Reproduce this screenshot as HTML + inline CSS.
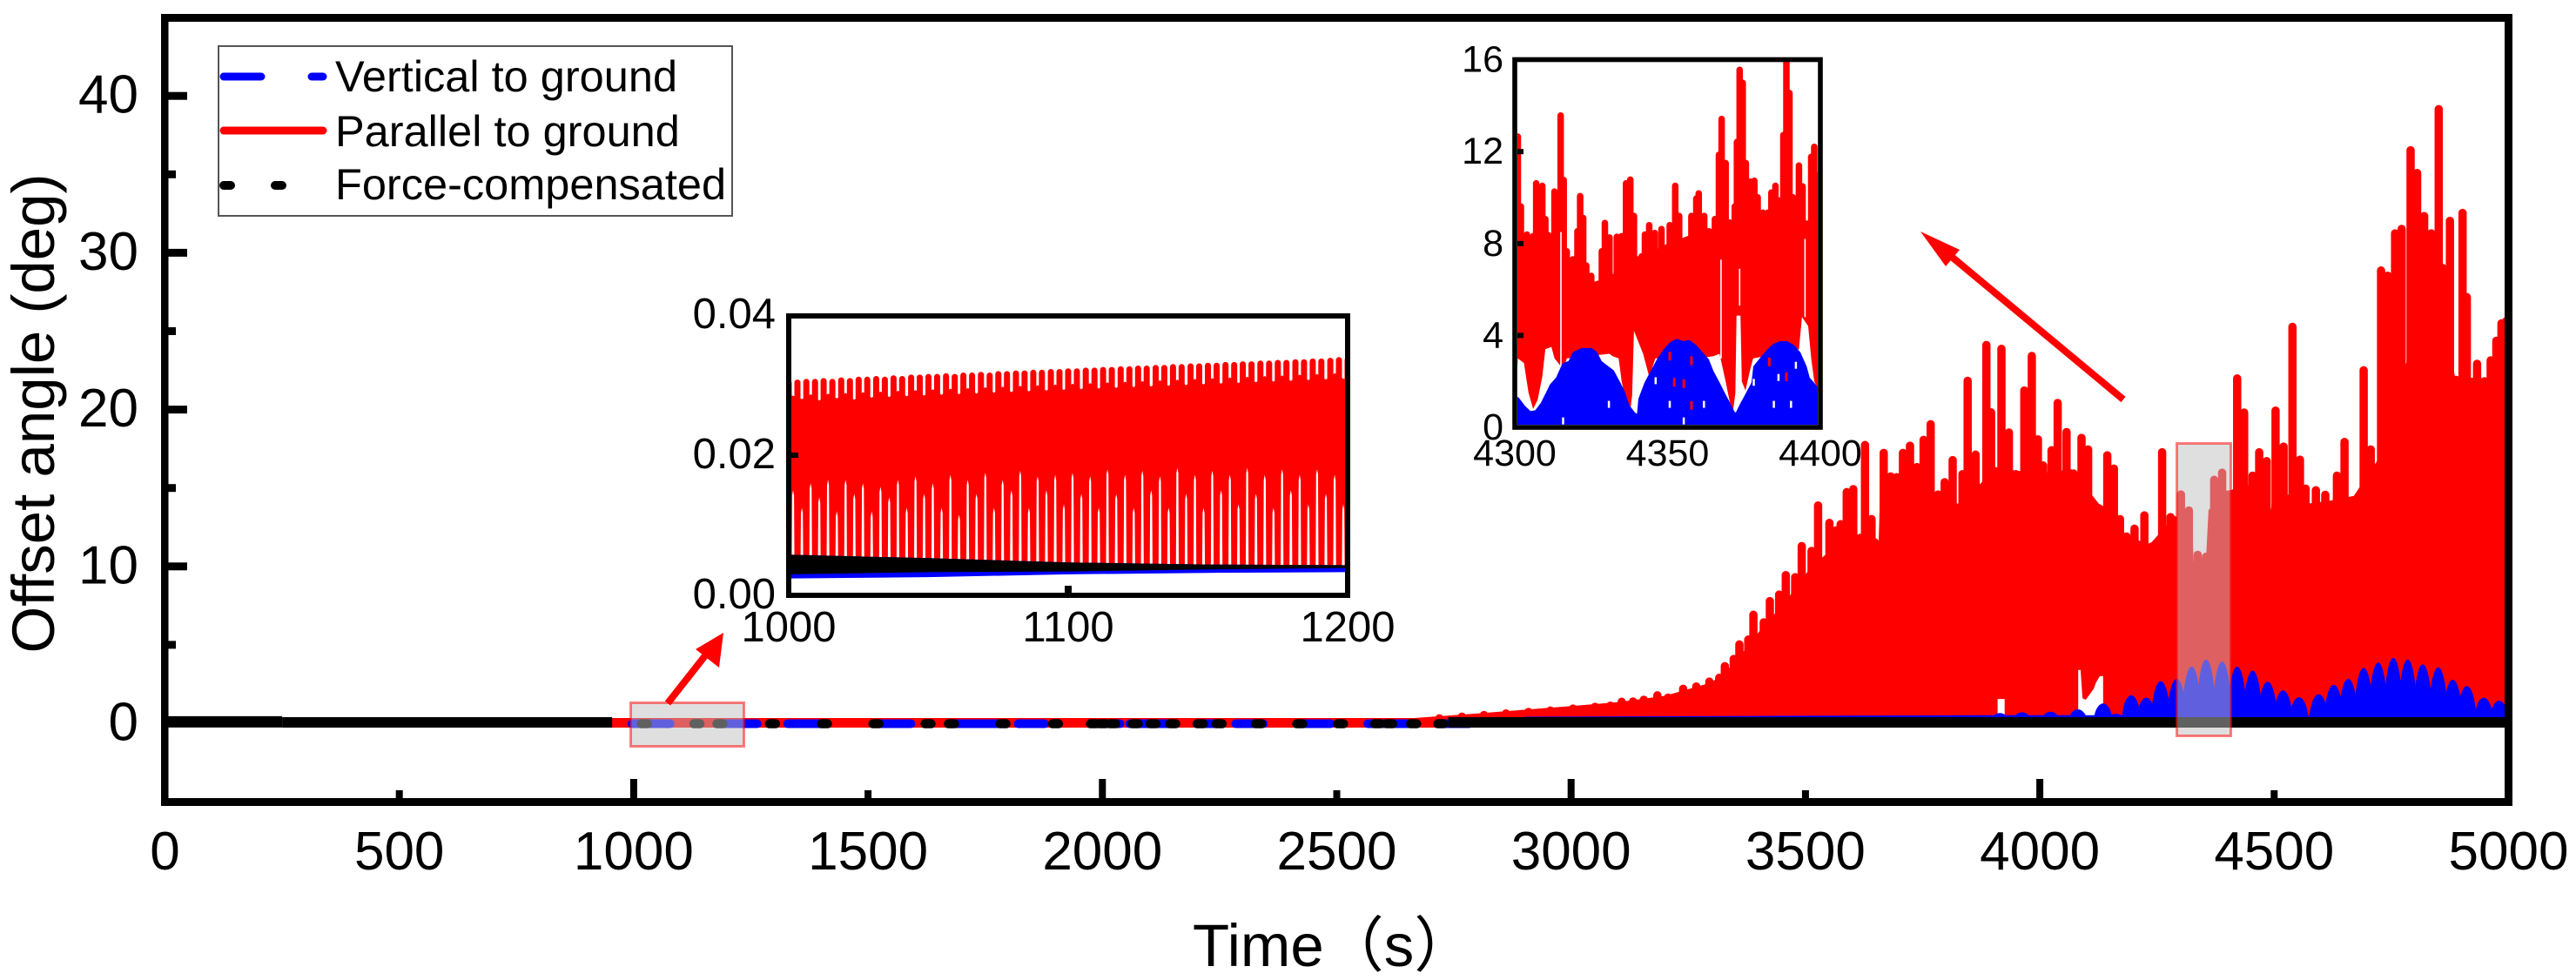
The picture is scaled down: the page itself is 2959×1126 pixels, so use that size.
<!DOCTYPE html>
<html lang="en">
<head>
<meta charset="utf-8">
<title>Offset angle vs time</title>
<style>
html,body{margin:0;padding:0;background:#fff;}
svg{display:block;}
text{font-family:"Liberation Sans","Noto Sans CJK SC",sans-serif;fill:#000;}
</style>
</head>
<body>
<svg id="chart" xmlns="http://www.w3.org/2000/svg" width="2959" height="1126" viewBox="0 0 2959 1126">
<defs>
<clipPath id="mainClip"><rect x="193" y="25" width="2684" height="892"/></clipPath>
<clipPath id="in1Clip"><rect x="909" y="366" width="636" height="315"/></clipPath>
<clipPath id="in2Clip"><rect x="1743" y="71" width="345" height="417"/></clipPath>
</defs>
<rect x="0" y="0" width="2959" height="1126" fill="#fff"/>
<g id="mainData" clip-path="url(#mainClip)"></g>
<g id="mainOverlay">
<rect x="724.5" y="807.5" width="130" height="50" fill="#c0c0c0" fill-opacity="0.5" stroke="#ff0000" stroke-opacity="0.5" stroke-width="3"/>
<rect x="2500.5" y="509.5" width="62" height="336" fill="#c0c0c0" fill-opacity="0.5" stroke="#ff0000" stroke-opacity="0.5" stroke-width="3"/>
</g>
<g id="mainAxes"></g>
<g>
<rect x="251" y="53" width="590" height="195" fill="#fff" stroke="#555" stroke-width="2"/>
<line x1="257" y1="88" x2="300" y2="88" stroke="#0000ff" stroke-width="9" stroke-linecap="round"/>
<line x1="358" y1="88" x2="371" y2="88" stroke="#0000ff" stroke-width="9" stroke-linecap="round"/>
<text x="385" y="105" font-size="50.5">Vertical to ground</text>
<line x1="257" y1="150" x2="371" y2="150" stroke="#ff0000" stroke-width="9" stroke-linecap="round"/>
<text x="385" y="168" font-size="50.5">Parallel to ground</text>
<line x1="257" y1="213" x2="265" y2="213" stroke="#000" stroke-width="10" stroke-linecap="round"/>
<line x1="316" y1="213" x2="324" y2="213" stroke="#000" stroke-width="10" stroke-linecap="round"/>
<text x="385" y="229" font-size="50.5">Force-compensated</text>
</g>
<text transform="translate(62,475) rotate(-90)" text-anchor="middle" font-size="69">Offset angle (deg)</text>
<text x="1370" y="1110" font-size="69">Time（s）</text>
<g>
<rect x="906" y="363" width="642" height="321" fill="#fff"/>
<g id="in1Data" clip-path="url(#in1Clip)"></g>
<g id="in1Axes"></g>
</g>
<g>
<rect x="1740" y="68.5" width="351" height="422.5" fill="#fff"/>
<g id="in2Data" clip-path="url(#in2Clip)"></g>
<g id="in2Axes"></g>
</g>
<g>
<line x1="767" y1="808" x2="815" y2="747" stroke="#ff0000" stroke-width="8"/>
<polygon points="831,727 826,767 799,746" fill="#ff0000"/>
<line x1="2439" y1="459" x2="2243" y2="296" stroke="#ff0000" stroke-width="8"/>
<polygon points="2206,266 2251,287 2235,306" fill="#ff0000"/>
</g>
</svg>
<script>
/* ===== main chart data ===== */
const xTickLabels = [0,500,1000,1500,2000,2500,3000,3500,4000,4500,5000];
const yTickLabels = [0,10,20,30,40];
const xMinorTicks = [500,1500,2500,3500,4500];
const xMajorTicks = [1000,2000,3000,4000];
const yMajorTicks = [10,20,30,40];
const yMinorTicks = [5,15,25,35];

const redSpikeTime = [2719,2767,2814,2861,2909,2956,3004,3051,3084,3108,3132,3155,3184,3207,3239,3267,3295,3316,3328,3347,3359,3378,3389,3411,3424,3444,3458,3478,3492,3513,3527,3551,3565,3575,3588,3602,3627,3641,3648,3667,3682,3695,3708,3723,3738,3752,3767,3783,3797,3814,3835,3846,3863,3886,3896,3905,3918,3934,3949,3967,3983,3996,4007,4025,4038,4057,4072,4089,4103,4144,4158,4171,4185,4202,4223,4238,4261,4279,4301,4318,4337,4355,4372,4389,4402,4421,4436,4454,4468,4484,4503,4520,4539,4555,4567,4589,4609,4634,4650,4670,4691,4706,4728,4742,4758,4772,4791,4805,4820,4835,4851,4859,4875,4888,4902,4911,4918,4933,4949,4962,4974,4985,4995];
const redSpikeValue = [0.57,0.68,0.79,0.89,0.98,1.07,1.2,1.31,1.39,1.63,1.65,1.76,2.04,1.9,2.46,2.61,2.92,3.16,3.9,4.36,5.29,5.6,7.18,6.7,8.05,8.47,9.71,9.58,11.56,11.25,14.15,13.04,12.56,12.95,15.0,15.19,18.0,13.28,11.8,17.5,16.0,15.95,17.5,17.96,16.6,18.33,19.33,14.85,15.63,17.04,16.15,22.1,17.39,24.38,20.09,16.33,24.14,18.8,16.15,21.48,23.68,18.37,16.7,17.67,20.68,18.83,16.19,18.46,17.72,17.35,16.5,13.28,12.17,12.67,13.52,11.52,17.54,13.41,14.85,13.83,11.0,10.88,15.78,16.24,14.85,22.25,20.07,16.05,17.54,16.98,20.2,17.9,25.54,17.07,15.22,15.12,14.83,16.05,18.2,14.48,22.77,17.72,29.13,28.8,31.5,31.78,36.8,35.35,32.6,31.5,39.42,29.3,32.3,22.16,32.8,27.43,21.97,23.18,22.07,23.4,24.65,25.76,25.9];

const redFloorTime = [2650,2800,3000,3100,3200,3300,3340,3380,3420,3450,3475,3503,3537,3580,3617,3640,3654,3660,3700,3778,3825,3874,3906,3950,4015,4068,4126,4162,4180,4234,4288,4325,4328,4355,4360,4405,4445,4493,4500,4571,4620,4670,4719,4782,4863,4886,4940,5000];
const redFloorValue = [0.3,0.62,1.1,1.35,1.75,2.6,3.6,5,6.6,7.4,8.5,9.6,10.6,11.7,12.1,11.0,9.3,15.5,15.8,14.4,14,15.3,16.3,16.1,16,16.2,14,13.4,12,11.4,13.2,13,10.3,10.7,13.6,14.85,15.2,13.6,15,14.0,14.2,14.5,16.7,23,25,22.1,22,22];

const redGap1Time = [3910,3910,3925,3925];
const redGap1Value = [0,1.55,1.55,0];
const redGap2Time = [4082,4082,4087,4091,4098,4108,4115,4120,4128,4135,4135];
const redGap2Value = [0,3.4,3.4,1.6,1.5,1.9,2.2,2.6,3,3,0];

const blueHumpTime = [3915,3962,4023,4081,4135,4162,4195,4227,4258,4292,4324,4355,4389,4421,4454,4486,4519,4553,4595,4627,4658,4691,4722,4754,4785,4817,4850,4881,4911,4947,4980];
const blueHumpValue = [0.65,0.7,0.74,0.89,1.26,0.61,1.78,1.63,2.68,2.83,3.61,4.07,3.94,3.61,3.35,2.65,2.09,1.66,1.85,2.46,2.83,3.53,3.88,4.18,4.07,3.76,3.57,2.79,2.37,1.63,1.44];
const blueLowTime = [2900,3400,3900,4300,5000];
const blueLowValue = [0.25,0.3,0.35,0.35,0.35];

const bandBlueStart = [989,1184,1321,1517,1678,1813,1971,2051,2194,2277,2423,2559,2726];
const bandBlueEnd = [1085,1271,1407,1599,1788,1884,2045,2163,2262,2351,2494,2676,2790];
const bandBlackDot = [1023,1135,1184,1296,1407,1517,1628,1678,1788,1900,1981,2000,2022,2070,2108,2150,2209,2249,2333,2421,2508,2587,2613,2664,2722];
const blackSolidStart = [0,250,2738];
const blackSolidEnd = [250,954,5000];
const blackSolidLevel = [0.09,0.055,0.055];
const blackSolidThickness = [13,12,12];

/* ===== inset 1000-1200 data ===== */
const in1XLabels = [1000,1100,1200];
const in1YLabels = ["0.00","0.02","0.04"];
const in1YTicksAt = [0,0.02,0.04];
const in1Time = [1000,1003.1,1006.3,1009.4,1012.5,1015.6,1018.8,1021.9,1025,1028.1,1031.3,1034.4,1037.5,1040.6,1043.8,1046.9,1050,1053.1,1056.3,1059.4,1062.5,1065.6,1068.8,1071.9,1075,1078.1,1081.3,1084.4,1087.5,1090.6,1093.8,1096.9,1100,1103.1,1106.3,1109.4,1112.5,1115.6,1118.8,1121.9,1125,1128.1,1131.3,1134.4,1137.5,1140.6,1143.8,1146.9,1150,1153.1,1156.3,1159.4,1162.5,1165.6,1168.8,1171.9,1175,1178.1,1181.3,1184.4,1187.5,1190.6,1193.8,1196.9,1200];
const in1Peak = [0.0307,0.0308,0.0309,0.0309,0.0310,0.0309,0.0311,0.0310,0.0312,0.0312,0.0313,0.0312,0.0314,0.0313,0.0315,0.0315,0.0316,0.0316,0.0317,0.0316,0.0318,0.0318,0.0319,0.0318,0.0320,0.0320,0.0321,0.0321,0.0322,0.0322,0.0323,0.0323,0.0324,0.0324,0.0325,0.0325,0.0326,0.0326,0.0327,0.0327,0.0328,0.0328,0.0329,0.0329,0.0330,0.0330,0.0331,0.0331,0.0332,0.0332,0.0333,0.0333,0.0334,0.0334,0.0335,0.0335,0.0336,0.0336,0.0337,0.0337,0.0338,0.0338,0.0339,0.0340,0.0340];
const in1Notch = [0.0285,0.0280,0.0287,0.0278,0.0288,0.0281,0.0289,0.0279,0.0290,0.0282,0.0291,0.0283,0.0292,0.0284,0.0293,0.0285,0.0294,0.0286,0.0295,0.0287,0.0296,0.0288,0.0297,0.0289,0.0298,0.0290,0.0299,0.0291,0.0300,0.0292,0.0301,0.0293,0.0302,0.0294,0.0303,0.0295,0.0304,0.0296,0.0305,0.0297,0.0306,0.0298,0.0307,0.0299,0.0308,0.0300,0.0309,0.0301,0.0310,0.0302,0.0311,0.0303,0.0312,0.0304,0.0313,0.0305,0.0314,0.0306,0.0315,0.0307,0.0316,0.0308,0.0317,0.0309];
const in1LowerGap = [0.0150,0.0125,0.0160,0.0140,0.0165,0.0120,0.0165,0.0145,0.0160,0.0120,0.0155,0.0140,0.0165,0.0125,0.0170,0.0145,0.0160,0.0125,0.0172,0.0115,0.0165,0.0145,0.0175,0.0125,0.0165,0.0150,0.0178,0.0125,0.0170,0.0150,0.0172,0.0130,0.0175,0.0145,0.0170,0.0125,0.0180,0.0145,0.0172,0.0125,0.0178,0.0150,0.0170,0.0125,0.0182,0.0145,0.0172,0.0125,0.0178,0.0150,0.0172,0.0130,0.0182,0.0145,0.0172,0.0125,0.0180,0.0150,0.0172,0.0130,0.0180,0.0145,0.0172,0.0130];
const in1BlackTime = [1000,1050,1100,1150,1200];
const in1BlackTop = [0.0058,0.0053,0.0047,0.0044,0.0043];
const in1BlackBottom = [0.0030,0.0033,0.0034,0.0037,0.0039];
const in1BlueBottom = [0.0024,0.0026,0.0030,0.0032,0.0033];

/* ===== inset 4300-4400 data ===== */
const in2XLabels = [4300,4350,4400];
const in2YLabels = [0,4,8,12,16];
const in2SpikeTime = [4301,4302,4304,4306,4307,4309,4310,4311,4313,4315,4316,4317,4319,4320.5,4321.4,4322.4,4323.4,4325,4327,4328.5,4329.5,4331,4332,4333.4,4335,4336.4,4337.8,4339,4340,4341.5,4342.6,4344,4345.8,4348,4350.7,4352.5,4353.8,4355.8,4357.8,4359.4,4360.2,4362,4363.6,4365.5,4366.8,4367.7,4369,4370.3,4372,4372.7,4373.6,4374.6,4375.6,4377.2,4378.4,4379.5,4381.2,4382.8,4384,4385.3,4386.8,4387.9,4388.9,4389.9,4391,4393,4394.2,4397,4398,4399];
const in2SpikeValue = [12.79,9.75,8.53,8.46,10.76,10.65,9.2,8.5,10.4,13.71,10.9,7.8,7.45,8.67,10.2,9.25,7.18,6.73,6.3,7.8,9.03,8.4,6.57,8.43,8.46,10.76,10.92,9.34,7.45,7.58,8.53,8.94,8.6,8.77,8.94,10.65,9.34,8.26,9.34,10.1,10.32,9.34,8.67,9.2,12,13.56,11.64,9.05,9.75,12.56,15.7,15.13,11.64,10.83,10.87,10.15,9.48,9.48,10.36,10.65,10.02,12.86,16.4,14.69,10.15,11.53,10.63,11.91,12.35,11.1];
const in2CoreTime = [4300,4305,4315,4325,4330,4340,4350,4360,4370,4380,4400];
const in2CoreValue = [8,8,7.2,6.3,6.5,7.3,8,8.5,8.6,9,9];
const in2LowerTime = [4300,4301,4303,4304.5,4306,4307.5,4309,4310,4312,4313,4316,4317,4331,4332,4334,4335,4336,4337.7,4338.4,4339,4342,4344,4346,4360,4365,4367,4369,4370.5,4371.5,4372.2,4372.6,4373.8,4374.3,4375.5,4377,4378,4390,4393,4394,4396,4397,4398,4400];
const in2LowerValue = [0,3,2.8,1.5,0.8,1.2,2.2,3.4,3.5,3,2.5,3,3.2,3.1,3,2,1.3,0.6,1.4,4.2,3.2,2.2,3,3,3.1,3.2,2,1,0.8,1.5,5.1,5.3,2,1.6,2.5,3,3.3,3.4,4.8,4.4,3,2,1.5];
const in2SlitTime = [4315.1,4367.5,4373.6,4395];
const in2SlitTop = [8.5,7.3,6.9,8.2];
const in2SlitBottom = [1.6,3,5.3,4.8];
const in2BlueTime = [4300,4301,4303,4305,4307,4309,4310.5,4312,4314,4316,4318,4319.5,4322,4325,4326.5,4328,4330,4332,4334,4335.5,4337,4339,4340.5,4341,4343,4345,4347,4349,4351,4353,4355,4357,4359,4361,4363,4364.5,4366.5,4368,4370,4371.5,4372.5,4374,4376,4378,4378.6,4381,4383,4385,4387,4389,4391,4393,4395,4396,4398,4400];
const in2BlueValue = [1.4,1.3,0.95,0.7,0.75,1.1,1.5,1.9,2.2,2.8,2.9,3.3,3.45,3.45,3.3,2.9,2.7,2.5,2.0,1.6,1.0,0.65,0.55,1.3,2,2.5,3,3.4,3.7,3.85,3.75,3.8,3.6,3.3,3,2.5,2,1.6,1.1,0.7,0.6,1,1.5,2,2.7,3.1,3.4,3.65,3.75,3.75,3.6,3.3,2.7,2.2,1.9,1.6];
const in2WhiteSpeckTime = [4315.8,4330.8,4346.1,4350.7,4355.3,4361.9,4378.2,4386.3,4384.8,4390.4,4392];
const in2WhiteSpeckValue = [0.28,1.0,2.03,1.0,0.28,1.0,1.96,2.17,1.0,1.0,2.7];
const in2RedSpeckTime = [4352.2,4355.3,4357.8,4357.8,4350.7,4383.3,4388.9];
const in2RedSpeckValue = [1.96,1.9,2.9,0.95,3.1,2.85,2.2];

/* ===== scales ===== */
const sx = t => 189.5 + t * 2692 / 5000;
const sy = v => 831 - v * 18.02;
const ax = t => 906 + (t - 1000) * 642 / 200;
const ay = v => 684 - v * 8050;
const bx = t => 1740 + (t - 4300) * 3.51;
const by = v => 491 - v * 26.4;

const NS = 'http://www.w3.org/2000/svg';
function mk(parent, tag) {
  const el = document.createElementNS(NS, tag);
  parent.appendChild(el);
  return el;
}
function rect(parent, x, y, w, h, fill) {
  const r = mk(parent, 'rect');
  r.setAttribute('x', x);
  r.setAttribute('y', y);
  r.setAttribute('width', w);
  r.setAttribute('height', h);
  r.setAttribute('fill', fill);
  return r;
}
function pathEl(parent, d, fill, stroke, sw, cap) {
  const p = mk(parent, 'path');
  p.setAttribute('d', d);
  p.setAttribute('fill', fill);
  if (stroke) {
    p.setAttribute('stroke', stroke);
    p.setAttribute('stroke-width', sw);
    p.setAttribute('stroke-linecap', cap || 'butt');
  }
  return p;
}
function label(parent, x, y, str, size, anchor) {
  const t = mk(parent, 'text');
  t.setAttribute('x', x);
  t.setAttribute('y', y);
  t.setAttribute('font-size', size);
  t.setAttribute('text-anchor', anchor);
  t.textContent = String(str);
  return t;
}
const $ = id => document.getElementById(id);

/* ===== main plot marks ===== */
(function drawMain() {
  const g = $('mainData');
  let d = 'M' + sx(redFloorTime[0]) + ' ' + sy(0);
  redFloorTime.forEach((t, i) => { d += 'L' + sx(t).toFixed(1) + ' ' + sy(redFloorValue[i]).toFixed(1); });
  d += 'L' + sx(5000) + ' ' + sy(0) + 'Z';
  const floor = pathEl(g, d, '#ff0000');
  
  

  redSpikeTime.forEach((t, i) => {
    const p = pathEl(g, 'M' + sx(t).toFixed(1) + ' ' + sy(0) + 'L' + sx(t).toFixed(1) + ' ' + (sy(redSpikeValue[i]) + 4.7).toFixed(1), 'none', '#ff0000', 9.5, 'round');
    
    
  });

  [[redGap1Time, redGap1Value], [redGap2Time, redGap2Value]].forEach(pair => {
    let gd = '';
    pair[0].forEach((t, i) => { gd += (i ? 'L' : 'M') + sx(t).toFixed(1) + ' ' + sy(pair[1][i]).toFixed(1); });
    const gp = pathEl(g, gd + 'Z', '#fff');
    
    
  });

  let low = '';
  blueLowTime.forEach((t, i) => { low += (i ? 'L' : 'M') + sx(t).toFixed(1) + ' ' + sy(blueLowValue[i]).toFixed(1); });
  const lowP = pathEl(g, low, 'none', '#0000ff', 6);
  
  

  blueHumpTime.forEach((t, i) => {
    const h = sy(0) - sy(blueHumpValue[i]);
    const x = sx(t), rx = 11;
    const hump = pathEl(g, 'M' + (x - rx).toFixed(1) + ' ' + sy(0) + 'A' + rx + ' ' + h.toFixed(1) + ' 0 0 1 ' + (x + rx).toFixed(1) + ' ' + sy(0) + 'Z', '#0000ff');
    
    
  });

  const band = pathEl(g, 'M' + sx(700) + ' ' + sy(0.03) + 'L' + sx(2800) + ' ' + sy(0.03), 'none', '#ff0000', 11);
  
  

  bandBlueStart.forEach((s, i) => {
    const b = pathEl(g, 'M' + (sx(s) + 4) + ' ' + sy(-0.03) + 'L' + (sx(bandBlueEnd[i]) - 4) + ' ' + sy(-0.03), 'none', '#0000ff', 10, 'round');
    
    
  });
  bandBlackDot.forEach(t => {
    const c = pathEl(g, 'M' + (sx(t) - 3.5) + ' ' + sy(-0.03) + 'L' + (sx(t) + 3.5) + ' ' + sy(-0.03), 'none', '#000', 10.5, 'round');
    
    
  });
  blackSolidStart.forEach((s, i) => {
    const k = pathEl(g, 'M' + sx(s) + ' ' + sy(blackSolidLevel[i]) + 'L' + sx(blackSolidEnd[i]) + ' ' + sy(blackSolidLevel[i]), 'none', '#000', blackSolidThickness[i]);
    
    
  });
})();

/* ===== main axes ===== */
(function drawMainAxes() {
  const g = $('mainAxes');
  const tt = rect(g, 185, 16, 2701, 9, '#000');
  
  
  const tb = rect(g, 185, 917, 2701, 9, '#000');
  
  
  const tl = rect(g, 185, 16, 8.5, 910, '#000');
  
  
  const tr = rect(g, 2877, 16, 9, 910, '#000');
  
  

  xMajorTicks.forEach(t => {
    const r = rect(g, sx(t) - 4, 895, 8, 22, '#000');
    
    
  });
  xMinorTicks.forEach(t => {
    const r = rect(g, sx(t) - 4, 908, 8, 9, '#000');
    
    
  });
  yMajorTicks.forEach(v => {
    const r = rect(g, 193, sy(v) - 4.5, 22, 9, '#000');
    
    
  });
  yMinorTicks.forEach(v => {
    const r = rect(g, 193, sy(v) - 4.5, 9, 9, '#000');
    
    
  });
  xTickLabels.forEach(t => {
    const l = label(g, sx(t), 999, t, 62, 'middle');
    
    
  });
  yTickLabels.forEach(v => {
    const l = label(g, 159, sy(v) + 19.5, v, 62, 'end');
    
    
  });
})();

/* ===== inset 1 ===== */
(function drawInset1() {
  const g = $('in1Data');
  in1Time.forEach((t, i) => {
    const p = pathEl(g, 'M' + ax(t).toFixed(1) + ' ' + ay(0.02) + 'L' + ax(t).toFixed(1) + ' ' + (ay(in1Peak[i]) + 3.5).toFixed(1), 'none', '#ff0000', 7, 'round');
    
    
  });
  let d = 'M' + ax(1000) + ' ' + ay(in1Notch[0]);
  in1Notch.forEach((n, i) => {
    const gx = ax((in1Time[i] + in1Time[i + 1]) / 2);
    d += 'L' + gx.toFixed(1) + ' ' + ay(n).toFixed(1);
  });
  d += 'L' + ax(1200) + ' ' + ay(in1Notch[in1Notch.length - 1]) + 'L' + ax(1200) + ' ' + ay(0.0042);
  for (let i = in1LowerGap.length - 1; i >= 0; i--) {
    const gx = ax((in1Time[i] + in1Time[i + 1]) / 2);
    const yb = ay(0.0042);
    d += 'L' + (gx + 1.6).toFixed(1) + ' ' + yb.toFixed(1);
    d += 'L' + (gx + 1.1).toFixed(1) + ' ' + (ay(in1LowerGap[i]) + 6).toFixed(1);
    d += 'L' + gx.toFixed(1) + ' ' + ay(in1LowerGap[i]).toFixed(1);
    d += 'L' + (gx - 1.1).toFixed(1) + ' ' + (ay(in1LowerGap[i]) + 6).toFixed(1);
    d += 'L' + (gx - 1.6).toFixed(1) + ' ' + yb.toFixed(1);
  }
  d += 'L' + ax(1000) + ' ' + ay(0.0042) + 'Z';
  const body = pathEl(g, d, '#ff0000');
  
  

  let bl = '';
  in1BlackTime.forEach((t, i) => { bl += (i ? 'L' : 'M') + ax(t).toFixed(1) + ' ' + ay(in1BlackTop[i]).toFixed(1); });
  for (let i = in1BlackTime.length - 1; i >= 0; i--) { bl += 'L' + ax(in1BlackTime[i]).toFixed(1) + ' ' + ay(in1BlueBottom[i]).toFixed(1); }
  const blue = pathEl(g, bl + 'Z', '#0000ff');
  
  

  let bk = '';
  in1BlackTime.forEach((t, i) => { bk += (i ? 'L' : 'M') + ax(t).toFixed(1) + ' ' + ay(in1BlackTop[i]).toFixed(1); });
  for (let i = in1BlackTime.length - 1; i >= 0; i--) { bk += 'L' + ax(in1BlackTime[i]).toFixed(1) + ' ' + ay(in1BlackBottom[i]).toFixed(1); }
  const black = pathEl(g, bk + 'Z', '#000');
  
  

  const a = $('in1Axes');
  const f = mk(a, 'rect');
  f.setAttribute('x', 906);
  f.setAttribute('y', 363);
  f.setAttribute('width', 642);
  f.setAttribute('height', 321);
  f.setAttribute('fill', 'none');
  f.setAttribute('stroke', '#000');
  f.setAttribute('stroke-width', 6);
  
  
  const t1 = rect(a, 909, ay(0.02) - 3, 8, 6, '#000');
  
  
  const t2 = rect(a, ax(1100) - 4, 673, 8, 8, '#000');
  
  
  in1XLabels.forEach(t => {
    const l = label(a, ax(t), 737, t, 49, 'middle');
    
    
  });
  in1YLabels.forEach((s, i) => {
    const l = label(a, 891, ay(in1YTicksAt[i]) + 15, s, 49, 'end');
    
    
  });
})();

/* ===== inset 2 ===== */
(function drawInset2() {
  const g = $('in2Data');
  in2SpikeTime.forEach((t, i) => {
    const p = pathEl(g, 'M' + bx(t).toFixed(1) + ' ' + by(5) + 'L' + bx(t).toFixed(1) + ' ' + (by(in2SpikeValue[i]) + 3.7).toFixed(1), 'none', '#ff0000', 7.5, 'round');
    
    
  });
  let d = '';
  in2CoreTime.forEach((t, i) => { d += (i ? 'L' : 'M') + bx(t).toFixed(1) + ' ' + by(in2CoreValue[i]).toFixed(1); });
  for (let i = in2LowerTime.length - 1; i >= 0; i--) { d += 'L' + bx(in2LowerTime[i]).toFixed(1) + ' ' + by(in2LowerValue[i]).toFixed(1); }
  const body = pathEl(g, d + 'Z', '#ff0000');
  
  
  in2SlitTime.forEach((t, i) => {
    const s = pathEl(g, 'M' + bx(t).toFixed(1) + ' ' + by(in2SlitTop[i]).toFixed(1) + 'L' + bx(t).toFixed(1) + ' ' + by(in2SlitBottom[i]).toFixed(1), 'none', '#fff', 1.6);
    
    
  });
  let bl = 'M' + bx(4300) + ' ' + by(0);
  in2BlueTime.forEach((t, i) => { bl += 'L' + bx(t).toFixed(1) + ' ' + (by(in2BlueValue[i]) + 2).toFixed(1); });
  bl += 'L' + bx(4400) + ' ' + by(0) + 'Z';
  const blue = pathEl(g, bl, '#0000ff', '#0000ff', 4);
  blue.setAttribute('stroke-linejoin', 'round');
  
  
  in2WhiteSpeckTime.forEach((t, i) => {
    const s = pathEl(g, 'M' + bx(t).toFixed(1) + ' ' + (by(in2WhiteSpeckValue[i]) - 4).toFixed(1) + 'L' + bx(t).toFixed(1) + ' ' + (by(in2WhiteSpeckValue[i]) + 4).toFixed(1), 'none', '#fff', 2.5);
    
    
  });
  in2RedSpeckTime.forEach((t, i) => {
    const s = pathEl(g, 'M' + bx(t).toFixed(1) + ' ' + (by(in2RedSpeckValue[i]) - 5).toFixed(1) + 'L' + bx(t).toFixed(1) + ' ' + (by(in2RedSpeckValue[i]) + 5).toFixed(1), 'none', '#ff0000', 3);
    
    
  });

  const a = $('in2Axes');
  const f = mk(a, 'rect');
  f.setAttribute('x', 1740);
  f.setAttribute('y', 68.5);
  f.setAttribute('width', 351);
  f.setAttribute('height', 422.5);
  f.setAttribute('fill', 'none');
  f.setAttribute('stroke', '#000');
  f.setAttribute('stroke-width', 5.6);
  
  
  in2YLabels.forEach(v => {
    if (v > 0 && v < 16) {
      const r = rect(a, 1743, by(v) - 3, 7, 6, '#000');
      
      
    }
    const l = label(a, 1727, by(v) + 14, v, 43, 'end');
    
    
  });
  in2XLabels.forEach(t => {
    const l = label(a, bx(t), 535, t, 43, 'middle');
    
    
  });
})();
</script>
</body>
</html>
